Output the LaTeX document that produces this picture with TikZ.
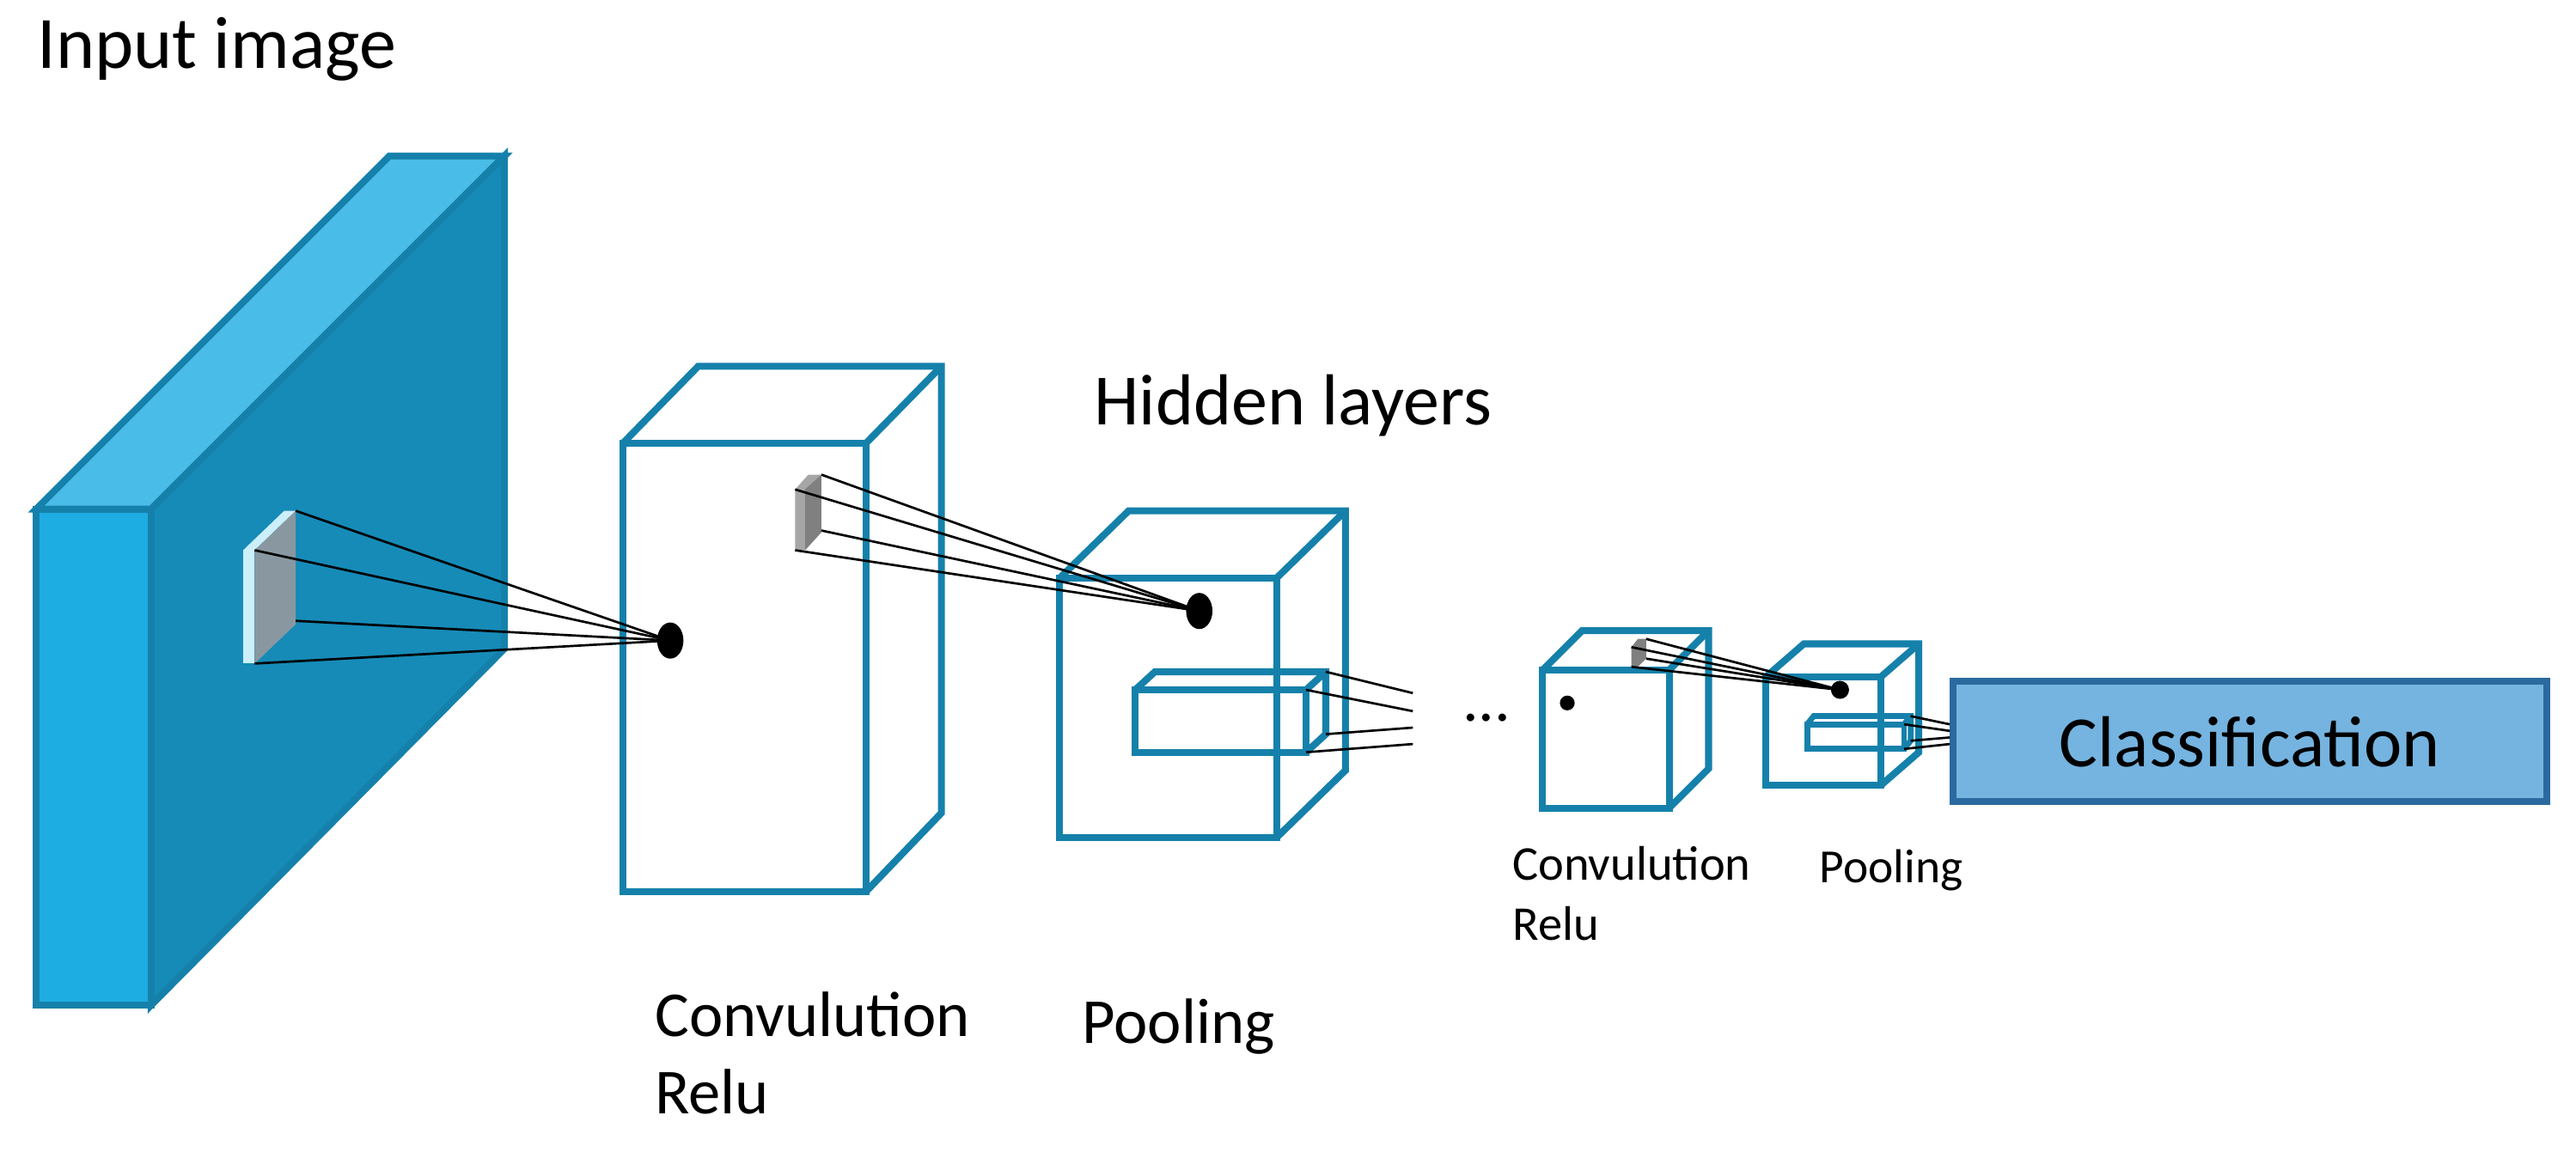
\documentclass[tikz,border=0pt]{standalone}
\usepackage{fontspec}
\setmainfont{Carlito}
\usetikzlibrary{shapes}
\definecolor{edge}{HTML}{1581AB}
\definecolor{front}{HTML}{1EADE3}
\definecolor{topface}{HTML}{4ABCE8}
\definecolor{side}{HTML}{168BB8}
\definecolor{classfill}{HTML}{75B4E0}
\definecolor{classedge}{HTML}{2A6A9E}
\tikzset{
	face/.style={draw=edge, line width=1.2pt, line join=miter},
	ray/.style={black, line width=0.4pt},
	dot/.style={ellipse, fill=black, inner sep=0pt},
	lbl/.style={anchor=west, inner sep=0pt, align=left}
}
\begin{document}
\begin{tikzpicture}[x=0.01cm, y=-0.01cm]
		\useasboundingbox (0, 0) rectangle (1568, 701);
		% input image slab
		\filldraw[face, fill=topface] (22, 310)--(237, 95)--(307, 95)--(92, 310)--cycle;
		\filldraw[face, fill=side] (92, 310)--(307, 95)--(307, 395)--(92, 612)--cycle;
		\filldraw[face, fill=front] (22, 310) rectangle (92, 612);
		\node[lbl, font=\fontsize{12.8pt}{14pt}\selectfont] (TIN) at (22, 30) {Input image};
		% patch on the input
		\fill[white!80!cyan] (148, 335)--(173, 311)--(180, 311)--(155, 335)--cycle;
		\fill[white!80!cyan] (148, 335) rectangle (155, 404);
		\fill[gray!60!cyan!40!gray] (155, 335)--(180, 311)--(180, 380)--(155, 404)--cycle;
		\coordinate (P1) at (180, 311);
		\coordinate (P2) at (155, 335);
		\coordinate (P3) at (180, 378);
		\coordinate (P4) at (155, 404);
		% convolution box
		\draw[face] (379, 270)--(425, 223)--(573, 223)--(573, 495)--(527, 543);
		\draw[face] (527, 270)--(573, 223);
		\draw[face] (379, 270) rectangle (527, 543);
		\node(D1) at (408, 390)[dot, minimum width=0.16cm, minimum height=0.22cm]{};
		\foreach \p in {P1, P2, P3, P4} \draw[ray] (\p)--(D1.center);
		\fill[gray!70] (484, 298)--(492, 289)--(500, 289)--(500, 324)--(490, 335)--(484, 335)--cycle;
		\fill[gray] (490, 298)--(500, 289)--(500, 324)--(490, 335)--cycle;
		\coordinate (Q1) at (500, 289);
		\coordinate (Q2) at (484, 298);
		\coordinate (Q3) at (500, 323);
		\coordinate (Q4) at (484, 335);
		\node[lbl, font=\fontsize{11.1pt}{13.4pt}\selectfont] (TC1) at (398, 641) {Convulution\\Relu};
		% pooling box
		\draw[face] (645, 352)--(687, 311)--(819, 311)--(819, 469)--(777, 510);
		\draw[face] (777, 352)--(819, 311);
		\draw[face] (645, 352) rectangle (777, 510);
		\node(D2) at (730, 372)[dot, minimum width=0.16cm, minimum height=0.22cm]{};
		\foreach \q in {Q1, Q2, Q3, Q4} \draw[ray] (\q)--(D2.center);
		\draw[face] (691, 420)--(703, 409)--(807, 409)--(807, 447)--(795, 458);
		\draw[face] (795, 420)--(807, 409);
		\draw[face] (691, 420) rectangle (795, 458);
		\coordinate (E1) at (860, 422);
		\coordinate (E2) at (860, 433);
		\coordinate (E3) at (860, 443);
		\coordinate (E4) at (860, 453);
		\draw[ray] (807, 409)--(E1);
		\draw[ray] (795, 420)--(E2);
		\draw[ray] (807, 447)--(E3);
		\draw[ray] (795, 458)--(E4);
		\node[lbl, font=\fontsize{11.1pt}{14pt}\selectfont] (TP1) at (658, 625) {Pooling};
		\node[font=\fontsize{12.5pt}{14pt}\selectfont] (THID) at (787, 247) {Hidden layers};
		\node[font=\fontsize{11pt}{14pt}\selectfont] (DOTS) at (905, 437) {...};
		% small convolution box
		\draw[face] (939, 408)--(963, 384)--(1040, 384)--(1040, 468)--(1016, 492);
		\draw[face] (1016, 408)--(1040, 384);
		\draw[face] (939, 408) rectangle (1016, 492);
		\node(D3) at (954, 428)[dot, minimum width=0.09cm, minimum height=0.09cm]{};
		\fill[gray] (993, 394)--(997, 389)--(1002, 389)--(1002, 401)--(997, 406)--(993, 406)--cycle;
		\coordinate (R1) at (1002, 389);
		\coordinate (R2) at (993, 394);
		\coordinate (R3) at (1002, 401);
		\coordinate (R4) at (993, 406);
		\node[lbl, font=\fontsize{8.4pt}{10.5pt}\selectfont] (TC2) at (920, 544) {Convulution\\Relu};
		% small pooling box
		\draw[face] (1075, 412)--(1098, 392)--(1168, 392)--(1168, 458)--(1145, 478);
		\draw[face] (1145, 412)--(1168, 392);
		\draw[face] (1075, 412) rectangle (1145, 478);
		\node(D4) at (1120, 420)[dot, minimum width=0.11cm, minimum height=0.11cm]{};
		\foreach \r in {R1, R2, R3, R4} \draw[ray] (\r)--(D4.center);
		\draw[face, line width=1pt] (1100, 441)--(1104, 436)--(1163, 436)--(1163, 451)--(1159, 456);
		\draw[face, line width=1pt] (1159, 441)--(1163, 436);
		\draw[face, line width=1pt] (1100, 441) rectangle (1159, 456);
		\node[lbl, font=\fontsize{8.25pt}{10pt}\selectfont] (TP2) at (1107, 530) {Pooling};
		% classification
		\node(CLS) at (1369.5, 451.5)[rectangle, draw=classedge, fill=classfill, line width=1.2pt, minimum width=3.61cm, minimum height=0.73cm, font=\fontsize{12.5pt}{14pt}\selectfont]{Classification};
		\draw[ray] (1163, 436)--(CLS.west |- 0, 441);
		\draw[ray] (1159, 441)--(CLS.west |- 0, 445);
		\draw[ray] (1163, 451)--(CLS.west |- 0, 449);
		\draw[ray] (1159, 456)--(CLS.west |- 0, 453);
\end{tikzpicture}
\end{document}
